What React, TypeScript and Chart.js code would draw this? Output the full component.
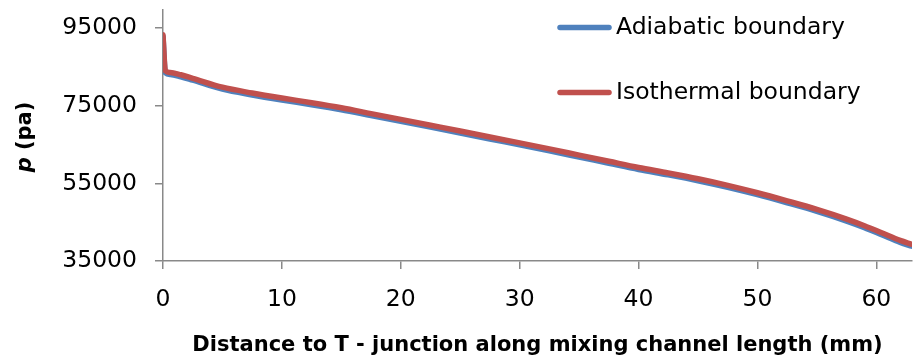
import React, { useEffect, useRef } from "react";
import { Chart, registerables } from "chart.js";

Chart.register(...registerables);

// ---- data ----
const distanceMm = [
  0, 0.2, 0.6, 1.5, 2.5, 5, 7.5, 10, 12.5, 15, 17.5, 20, 22.5, 25, 27.5, 30,
  32.5, 35, 37.5, 40, 42.5, 45, 47.5, 50, 52.5, 55, 57.5, 59, 60.5, 62, 63,
];
const adiabaticPa = [
  92900, 83500, 83100, 82500, 81600, 79300, 77800, 76500, 75300, 74000, 72500,
  71000, 69500, 68000, 66450, 64950, 63400, 61800, 60200, 58600, 57200, 55700,
  54000, 52100, 50000, 47800, 45300, 43600, 41700, 39800, 38800,
];
const isothermalPa = [
  93300, 84000, 83600, 83000, 82100, 79800, 78300, 77000, 75800, 74500, 73000,
  71500, 70000, 68500, 66950, 65450, 63900, 62300, 60700, 59100, 57700, 56200,
  54500, 52600, 50500, 48300, 45800, 44100, 42200, 40300, 39300,
];
const seriesNames = ["Adiabatic boundary", "Isothermal boundary"];
const seriesColors = ["#4F81BD", "#C0504D"];
const yTickValues = [35000, 55000, 75000, 95000];
const xTickValues = [0, 10, 20, 30, 40, 50, 60];
const xAxisTitle = "Distance to T - junction along mixing channel length (mm)";
const yAxisTitleItalic = "p";
const yAxisTitleRest = " (pa)";

const FONT = "'DejaVu Sans', sans-serif";
const AXIS_GRAY = "#898989";

const insideLegend = {
  id: "insideLegend",
  afterDraw(chart: any) {
    const { ctx, chartArea } = chart;
    ctx.save();
    chart.data.datasets.forEach((ds: any, i: number) => {
      const x0 = chartArea.right - 352;
      const y = chartArea.top + 17.5 + i * 65;
      ctx.strokeStyle = ds.borderColor;
      ctx.lineWidth = 5.5;
      ctx.lineCap = "round";
      ctx.beginPath();
      ctx.moveTo(x0, y);
      ctx.lineTo(x0 + 49, y);
      ctx.stroke();
      ctx.fillStyle = "#000";
      ctx.font = `23.5px ${FONT}`;
      ctx.textAlign = "left";
      ctx.textBaseline = "middle";
      ctx.fillText(ds.label, x0 + 56, y + 0.5);
    });
    ctx.restore();
  },
};

const yTitlePlugin = {
  id: "yTitlePlugin",
  afterDraw(chart: any) {
    const { ctx, chartArea } = chart;
    ctx.save();
    ctx.translate(26, (chartArea.top + chartArea.bottom) / 2 + 1.5);
    ctx.rotate(-Math.PI / 2);
    ctx.fillStyle = "#000";
    ctx.textBaseline = "middle";
    ctx.textAlign = "left";
    const f1 = `italic bold 21px ${FONT}`;
    const f2 = `bold 21px ${FONT}`;
    ctx.font = f1;
    const w1 = ctx.measureText(yAxisTitleItalic).width;
    ctx.font = f2;
    const w2 = ctx.measureText(yAxisTitleRest).width;
    const start = -(w1 + w2) / 2;
    ctx.font = f1;
    ctx.fillText(yAxisTitleItalic, start, 0);
    ctx.font = f2;
    ctx.fillText(yAxisTitleRest, start + w1, 0);
    ctx.restore();
  },
};

export default function App() {
  const canvasRef = useRef<HTMLCanvasElement | null>(null);

  useEffect(() => {
    if (!canvasRef.current) return;
    Chart.defaults.font.family = FONT;
    const toPoints = (ys: number[]) =>
      distanceMm.map((x, i) => ({ x, y: ys[i] }));

    const chart = new Chart(canvasRef.current, {
      type: "line",
      data: {
        datasets: [
          {
            label: seriesNames[0],
            data: toPoints(adiabaticPa),
            borderColor: seriesColors[0],
            backgroundColor: seriesColors[0],
            borderWidth: 5.5,
            borderCapStyle: "round",
            borderJoinStyle: "round",
            pointRadius: 0,
            cubicInterpolationMode: "monotone",
            order: 1,
          },
          {
            label: seriesNames[1],
            data: toPoints(isothermalPa),
            borderColor: seriesColors[1],
            backgroundColor: seriesColors[1],
            borderWidth: 5.5,
            borderCapStyle: "round",
            borderJoinStyle: "round",
            pointRadius: 0,
            cubicInterpolationMode: "monotone",
            order: 0,
          },
        ],
      },
      options: {
        animation: false,
        responsive: true,
        maintainAspectRatio: false,
        layout: { padding: { left: 0, top: 10, right: 6, bottom: 0 } },
        plugins: {
          legend: { display: false },
          tooltip: { enabled: false },
        },
        scales: {
          x: {
            type: "linear",
            min: 0,
            max: 63,
            afterBuildTicks: (scale: any) => {
              scale.ticks = xTickValues.map((v) => ({ value: v }));
            },
            afterFit: (scale: any) => {
              scale.height = 99;
            },
            ticks: {
              color: "#000",
              font: { size: 23.5, family: FONT },
              padding: 17,
              maxRotation: 0,
              callback: (v: any) => String(v),
            },
            grid: {
              display: true,
              drawOnChartArea: false,
              drawTicks: true,
              tickLength: 8,
              color: AXIS_GRAY,
              lineWidth: 1.5,
            },
            border: { display: true, color: AXIS_GRAY, width: 1.5 },
            title: {
              display: true,
              text: xAxisTitle,
              color: "#000",
              font: { size: 21, weight: "bold", family: FONT },
              padding: { top: 0, bottom: 2 },
            },
          },
          y: {
            type: "linear",
            min: 35000,
            max: 99700,
            afterBuildTicks: (scale: any) => {
              scale.ticks = yTickValues.map((v) => ({ value: v }));
            },
            afterFit: (scale: any) => {
              scale.width = 163;
              scale.paddingTop = 0;
              scale.paddingBottom = 0;
            },
            ticks: {
              color: "#000",
              font: { size: 23.5, family: FONT },
              padding: 18,
              callback: (v: any) => String(v),
            },
            grid: {
              display: true,
              drawOnChartArea: false,
              drawTicks: true,
              tickLength: 8,
              color: AXIS_GRAY,
              lineWidth: 1.5,
            },
            border: { display: true, color: AXIS_GRAY, width: 1.5 },
          },
        },
      },
      plugins: [insideLegend, yTitlePlugin],
    } as any);

    return () => chart.destroy();
  }, []);

  return (
    <div
      style={{
        position: "fixed",
        left: 0,
        top: 0,
        width: "918px",
        height: "360px",
        background: "#fff",
      }}
    >
      <canvas ref={canvasRef} />
    </div>
  );
}
